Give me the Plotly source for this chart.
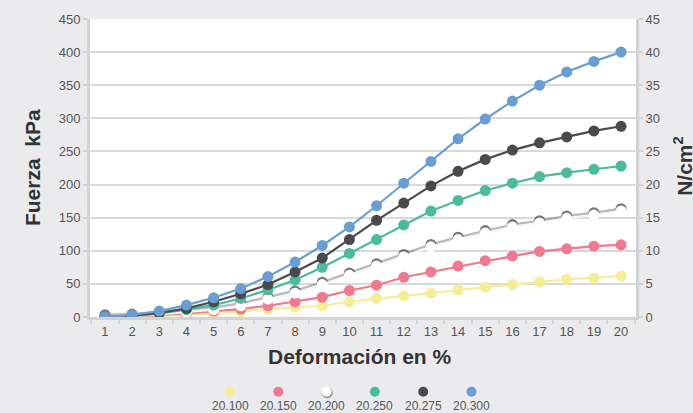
import plotly.graph_objects as go

deformacion = [str(i) for i in range(1, 21)]
series_names = ["20.100", "20.150", "20.200", "20.250", "20.275", "20.300"]
s20100 = [0, 0.5, 1.5, 3, 5, 8, 12, 15, 17, 23, 28, 32, 36, 41, 45, 49, 53, 57, 59, 62]
s20150 = [0, 0.5, 3, 5, 9, 12, 17, 23, 30, 40, 48, 60, 68, 77, 85, 92, 99, 103, 107, 109]
s20200 = [0, 1, 4, 7, 11, 17, 27, 36, 49, 63, 77, 91, 106, 117, 127, 136, 142, 149, 154, 160]
s20250 = [0, 1.5, 5, 11, 18, 28, 41, 56, 75, 96, 117, 139, 160, 176, 191, 202, 212, 218, 223, 228]
s20275 = [0, 2, 6, 13, 23, 35, 49, 68, 89, 117, 146, 172, 198, 220, 238, 252, 263, 272, 281, 288]
s20300 = [0, 3, 9, 18, 29, 43, 61, 83, 108, 136, 168, 202, 235, 269, 299, 326, 350, 370, 386, 400]
y_left_ticks = [0, 50, 100, 150, 200, 250, 300, 350, 400, 450]
y_right_ticks = [0, 5, 10, 15, 20, 25, 30, 35, 40, 45]

colors = ["#f4ee96", "#ef798e", "#ffffff", "#4cba9c", "#484a4c", "#6a9ed3"]
line_colors = ["#f4ee96", "#ef798e", "#f6f6f6", "#4cba9c", "#484a4c", "#6a9ed3"]
values = [s20100, s20150, s20200, s20250, s20275, s20300]

FONT = "Liberation Sans, Arial, sans-serif"
fig = go.Figure()

for name, vals, c, lc in zip(series_names, values, colors, line_colors):
    if name == "20.200":
        # soft shadow under the white series (drawn on an offset overlay axis)
        fig.add_trace(go.Scatter(
            x=deformacion, y=vals, mode="lines+markers", yaxis="y3",
            line=dict(color="rgba(60,60,60,0.35)", width=2.5),
            marker=dict(size=11, color="rgba(30,30,30,0.6)"),
            showlegend=False, hoverinfo="skip"))
    ax = "y" if name in ("20.100", "20.150") else "y4"
    fig.add_trace(go.Scatter(
        x=deformacion, y=vals, mode="lines+markers", name=name, yaxis=ax,
        line=dict(color=lc, width=2.2),
        marker=dict(size=11, color=c),
        showlegend=False))

axis_font = dict(family=FONT, size=13, color="#555555")
fig.update_layout(
    width=693, height=413,
    paper_bgcolor="#ebebed", plot_bgcolor="#ffffff",
    margin=dict(l=90, r=57, t=19, b=96, autoexpand=False),
    xaxis=dict(type="category", tickson="boundaries", ticks="outside", ticklen=4,
               tickwidth=2, tickcolor="#d3d3d3", showgrid=False,
               showline=True, linecolor="#d3d3d3", linewidth=3,
               tickfont=axis_font, range=[-0.55, 19.55]),
    yaxis=dict(range=[0, 450], tickvals=y_left_ticks, ticks="outside", ticklen=4,
               tickwidth=2, tickcolor="#d3d3d3", showgrid=True, gridcolor="#d9d9d9",
               gridwidth=2, showline=True, linecolor="#d3d3d3", linewidth=3,
               zeroline=False, tickfont=axis_font),
    yaxis2=dict(range=[0, 45], tickvals=y_right_ticks, overlaying="y", side="right",
                ticks="outside", ticklen=4, tickwidth=2, tickcolor="#d3d3d3",
                showgrid=False, showline=True, linecolor="#d3d3d3", linewidth=3,
                zeroline=False, tickfont=axis_font),
    yaxis3=dict(range=[-3.5, 446.5], overlaying="y", visible=False),
    yaxis4=dict(range=[0, 450], overlaying="y", visible=False),
    showlegend=False,
)
# invisible trace to activate right axis
fig.add_trace(go.Scatter(x=deformacion[:1], y=[None], yaxis="y2", showlegend=False,
                         hoverinfo="skip"))

title_font = dict(family=FONT, size=21, color="#333333")
fig.add_annotation(text="<b>Deformación en %</b>", xref="paper", yref="paper",
                   x=0.4945, y=-0.134, showarrow=False, font=title_font,
                   xanchor="center", yanchor="middle")
fig.add_annotation(text="<b>Fuerza  kPa</b>", xref="paper", yref="paper",
                   x=-0.106, y=0.5, showarrow=False, font=title_font, textangle=-90,
                   xanchor="center", yanchor="middle")
fig.add_annotation(text="<b>N/cm<sup>2</sup></b>", xref="paper", yref="paper",
                   x=1.086, y=0.507, showarrow=False, font=title_font, textangle=-90,
                   xanchor="center", yanchor="middle")

# custom legend: marker above label
for i, (name, c) in enumerate(zip(series_names, colors)):
    px = 230 + i * 48.3
    xp = (px - 90) / 546
    ym = (317 - 391.7) / 298
    if name == "20.200":
        fig.add_shape(type="circle", xref="paper", yref="paper", xsizemode="pixel",
                      ysizemode="pixel", xanchor=xp, yanchor=ym,
                      x0=-5, x1=6, y0=-6.5, y1=4.5,
                      fillcolor="rgba(40,40,40,0.5)", line=dict(width=0))
    fig.add_shape(type="circle", xref="paper", yref="paper", xsizemode="pixel",
                  ysizemode="pixel", xanchor=xp, yanchor=ym,
                  x0=-5, x1=5, y0=-5, y1=5, fillcolor=c, line=dict(width=0))
    fig.add_annotation(text=name, xref="paper", yref="paper", x=xp,
                       y=(317 - 406) / 298, showarrow=False,
                       font=dict(family=FONT, size=12, color="#555555"),
                       xanchor="center", yanchor="middle")

fig.write_html("out.html", config={"displayModeBar": False},
               post_script="document.body.style.margin='0';")
